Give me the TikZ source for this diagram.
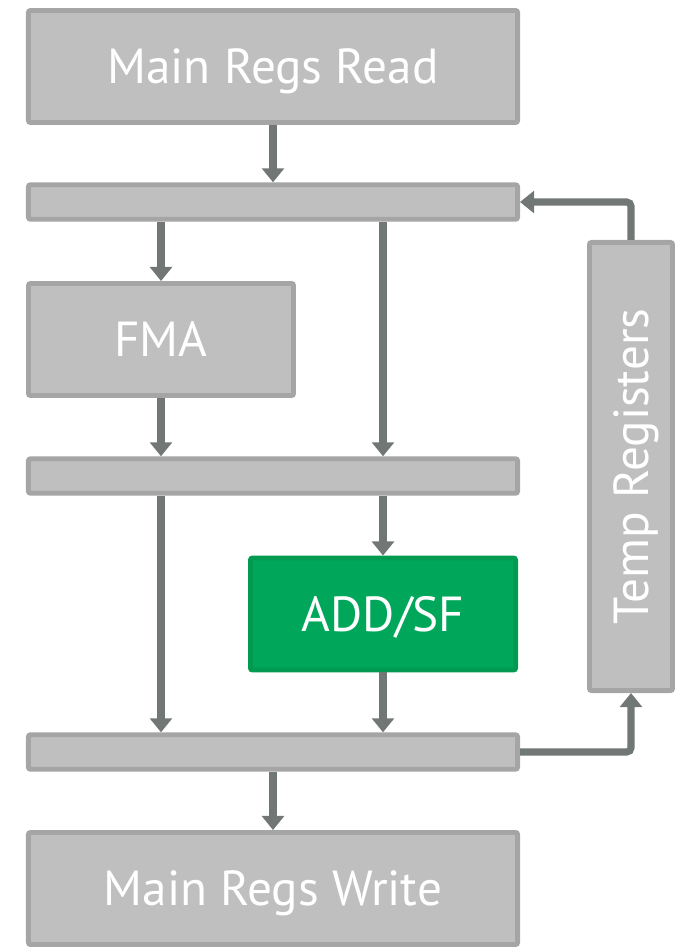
\documentclass[tikz,border=0pt]{standalone}
\usepackage{fontspec}
\setmainfont{PT Sans}
\usetikzlibrary{positioning, arrows.meta}
\definecolor{boxfill}{HTML}{BFBFBF}
\definecolor{boxline}{HTML}{A5A5A5}
\definecolor{addfill}{HTML}{00A75B}
\definecolor{addline}{HTML}{009A50}
\definecolor{wire}{HTML}{717775}

\begin{document}
\begin{tikzpicture}[x = 0.025cm, y = -0.025cm,
  label/.style={text = white, font = \fontsize{35}{40}\selectfont, text height = 24.5pt, text depth = 0pt},
  unit/.style={label, draw = boxline, fill = boxfill, line width = 3.5pt, rounded corners = 1.5pt, inner sep = 0pt, minimum width = 12.225cm, minimum height = 2.8cm},
  bar/.style={unit, minimum height = 0.825cm},
  half/.style={unit, minimum width = 6.625cm},
  wire/.style={draw = wire, line width = 5pt, rounded corners = 3pt, -{Triangle[width = 15.5pt, length = 10pt]}}]
  \useasboundingbox (0,0) rectangle (677,947);

  % nodes
  \node [unit] (read) at (273, 66.5) {Main Regs Read};
  \node [bar] (inbar) at (273, 202) {};
  \node [half] (fma) at (161, 339.5) {FMA};
  \node [bar] (midbar) at (273, 476) {};
  \node [half, draw = addline, fill = addfill] (add) at (383, 614) {ADD/SF};
  \node [bar] (outbar) at (273, 752) {};
  \node [unit] (write) at (273, 888.5) {Main Regs Write};
  \node [unit, minimum width = 2.075cm, minimum height = 11.2cm] (temp) at (631, 466.5) {};
  \node [label, rotate = 90] (templabel) at (temp.center) {Temp Registers};

  % edges
  \draw [wire] (read) -- (inbar);
  \draw [wire] (inbar.south -| fma) -- (fma);
  \draw [wire] (inbar.south -| add) -- (midbar.north -| add);
  \draw [wire] (fma) -- (fma |- midbar.north);
  \draw [wire] (midbar.south -| fma) -- (outbar.north -| fma);
  \draw [wire] (midbar.south -| add) -- (add);
  \draw [wire] (add) -- (add |- outbar.north);
  \draw [wire] (outbar) -- (write);
  \draw [wire] (outbar.east) -| (temp.south);
  \draw [wire] (temp.north) |- (inbar.east);
\end{tikzpicture}
\end{document}
